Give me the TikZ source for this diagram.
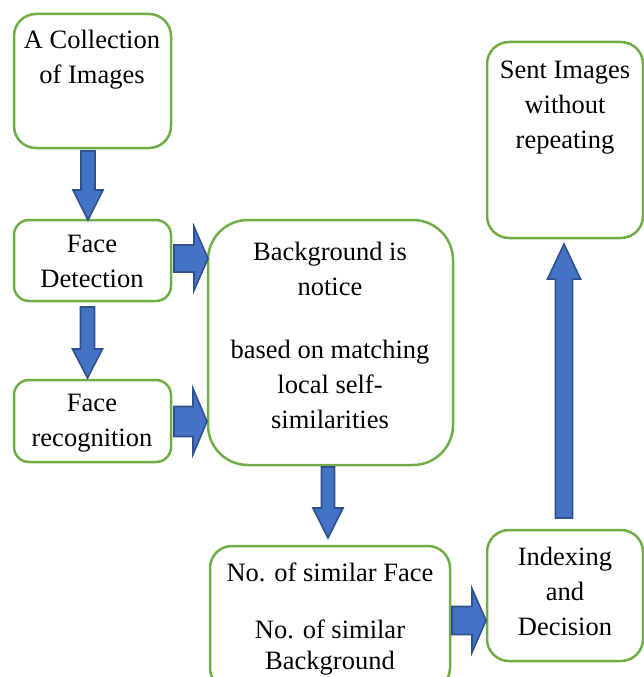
\documentclass[tikz,border=0pt]{standalone}
\usepackage{fontspec}
\setmainfont{Liberation Serif}
\usetikzlibrary{calc}
\definecolor{boxgreen}{HTML}{70AD47}
\definecolor{arrfill}{HTML}{4472C4}
\definecolor{arrline}{HTML}{2F528F}
\tikzset{
  procbox/.style={draw=boxgreen, line width=2.5pt, fill=white, inner sep=0pt, rounded corners=#1},
  procbox/.default=20pt,
  lbl/.style={align=center, inner sep=0pt, font=\fontsize{26.5}{35}\selectfont},
  barrow/.style={fill=arrfill, draw=arrline, line width=1.6pt, line join=miter}
}
\newcommand\blockarr[5]{%
  \coordinate (ba-n) at ($(#2)!#5!(#1)$);
  \draw[barrow] ($(#1)!#3!90:(#2)$) -- ($(ba-n)!#3!90:(#2)$) -- ($(ba-n)!#4!90:(#2)$) -- (#2)
    -- ($(ba-n)!#4!-90:(#2)$) -- ($(ba-n)!#3!-90:(#2)$) -- ($(#1)!#3!-90:(#2)$) -- cycle;}
\begin{document}
\begin{tikzpicture}[x=1pt,y=-1pt]
\useasboundingbox (0,0) rectangle (644,677);
\clip (0,0) rectangle (644,677);
% boxes
\node[procbox=22pt, minimum width=157pt, minimum height=134pt] (b1) at (92.5,81) {};
\node[procbox=15pt, minimum width=157pt, minimum height=81pt] (b2) at (92.5,260.5) {};
\node[procbox=15pt, minimum width=157pt, minimum height=82pt] (b3) at (92.5,421) {};
\node[procbox=40pt, minimum width=245pt, minimum height=245pt] (b4) at (330.5,342.5) {};
\node[procbox=22pt, minimum width=240pt, minimum height=144pt] (b5) at (330,618) {};
\node[procbox=22pt, minimum width=156pt, minimum height=131pt] (b6) at (565,595.5) {};
\node[procbox=22pt, minimum width=156pt, minimum height=196pt] (b7) at (565,140) {};
% labels
\node[lbl] (t1) at (92,60) {A Collection\\of Images};
\node[lbl] (t2) at (92,261.5) {Face\\Detection};
\node[lbl] (t3) at (92,423) {Face\\recognition};
\node[lbl] (t4) at (330,335) {Background is\\notice\\[28pt]based on matching\\local self-\\similarities};
\node[lbl] (t5) at (330,619.5) {No. of similar Face\\[22pt]No. of similar\\[-4pt]Background};
\node[lbl] (t6) at (565,591) {Indexing\\and\\Decision};
\node[lbl] (t7) at (565,108) {Sent Images\\without\\repeating};
% arrow end points
\coordinate (a1s) at (88,151); \coordinate (a1e) at (88,220);
\coordinate (a2s) at (87.5,307); \coordinate (a2e) at (87.5,378);
\coordinate (a3s) at (174,258.5); \coordinate (a3e) at (208,258.5);
\coordinate (a4s) at (174,421.5); \coordinate (a4e) at (207,421.5);
\coordinate (a5s) at (328,467); \coordinate (a5e) at (328,538);
\coordinate (a6s) at (452,620.5); \coordinate (a6e) at (486,620.5);
\coordinate (a7s) at (564,518); \coordinate (a7e) at (564,244);
\blockarr{a1s}{a1e}{7pt}{15pt}{30pt}
\blockarr{a2s}{a2e}{7pt}{15pt}{29pt}
\blockarr{a3s}{a3e}{13.5pt}{32pt}{14pt}
\blockarr{a4s}{a4e}{15pt}{33pt}{14pt}
\blockarr{a5s}{a5e}{6.5pt}{15pt}{30pt}
\blockarr{a6s}{a6e}{14pt}{32pt}{14pt}
\blockarr{a7s}{a7e}{8.5pt}{16.5pt}{35pt}
\end{tikzpicture}
\end{document}
